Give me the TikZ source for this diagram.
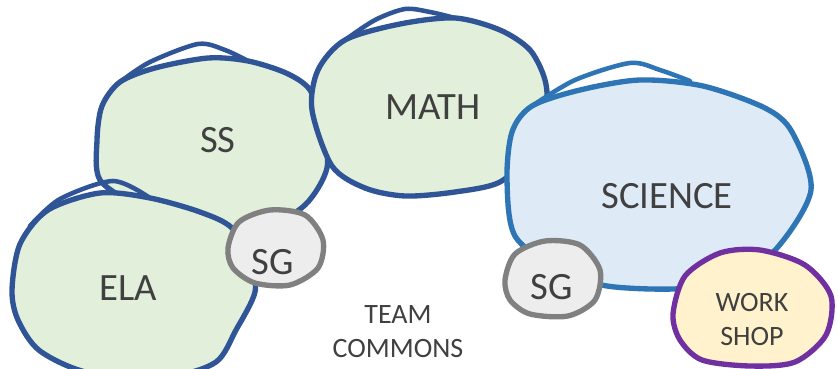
\documentclass[tikz,border=0pt]{standalone}
\usepackage{fontspec}
\setmainfont{Carlito}
\usepackage{tikz}

\definecolor{subjfill}{HTML}{E2EFDA}
\definecolor{subjline}{HTML}{2F5597}
\definecolor{scifill}{HTML}{DEEBF7}
\definecolor{sciline}{HTML}{2E75B6}
\definecolor{sgfill}{HTML}{EDEDED}
\definecolor{sgline}{HTML}{808080}
\definecolor{shopfill}{HTML}{FFF2CC}
\definecolor{shopline}{HTML}{7030A0}
\definecolor{labelgray}{HTML}{404040}

\tikzset{
	subject/.style={draw=subjline, fill=subjfill, line width=4pt, line join=round},
	science/.style={draw=sciline, fill=scifill, line width=4pt, line join=round},
	group/.style={draw=sgline, fill=sgfill, line width=4pt, line join=round},
	shop/.style={draw=shopline, fill=shopfill, line width=4pt, line join=round},
	lip/.style={line width=3.4pt, line cap=round},
	biglabel/.style={text=labelgray, font=\fontsize{29}{32}\selectfont},
	smalllabel/.style={text=labelgray, font=\fontsize{21}{25.5}\selectfont, align=center},
}

\begin{document}
\begin{tikzpicture}[x=0.75pt,y=-0.75pt]
		\useasboundingbox (0,0) rectangle (838,368);

		% social studies
		\draw[lip,subjline] plot[smooth] coordinates {(120,82) (150,62) (198,44) (225,50) (248,61)};
		\draw[subject] plot[smooth cycle] coordinates {(97,140) (102,106) (120,82) (155,68) (208,58) (248,61) (286,73) (310,90) (322,126) (327,168) (305,205) (265,226) (200,226) (140,206) (100,180)};

		% math
		\draw[lip,subjline] plot[smooth] coordinates {(345,40) (375,20) (405,9) (430,12) (455,18)};
		\draw[subject] plot[smooth cycle] coordinates {(312,110) (318,70) (345,40) (400,24) (455,18) (500,30) (530,50) (545,80) (546,110) (530,152) (500,182) (455,192) (405,196) (365,188) (332,166)};

		% science
		\draw[lip,sciline] plot[smooth] coordinates {(532,106) (575,80) (630,63) (660,70) (690,81)};
		\draw[science] plot[smooth cycle] coordinates {(507,180) (512,132) (532,106) (580,90) (640,80) (703,86) (765,108) (792,132) (811,190) (777,248) (730,282) (673,289) (607,286) (560,271) (515,236)};

		% english
		\draw[lip,subjline] plot[smooth] coordinates {(30,226) (60,199) (113,181) (150,198)};
		\draw[subject] plot[smooth cycle] coordinates {(12,290) (20,244) (48,210) (100,193) (150,198) (200,212) (232,228) (250,262) (255,292) (236,330) (216,362) (170,376) (90,373) (40,351) (18,320)};

		% small groups and workshop
		\draw[group] plot[smooth cycle] coordinates {(228,248) (239,222) (270,210) (305,215) (323,240) (318,268) (290,285) (255,283) (233,268)};
		\draw[group] plot[smooth cycle] coordinates {(505,280) (515,254) (545,241) (580,245) (600,270) (595,300) (568,316) (530,314) (510,300)};
		\draw[shop] plot[smooth cycle] coordinates {(673,314) (685,276) (720,253) (760,250) (805,265) (831,296) (826,335) (795,362) (750,366) (702,360) (680,340)};

		\node[biglabel] (ss) at(218,140) {SS};
		\node[biglabel] (math) at(433,107) {MATH};
		\node[biglabel] (science) at(667,196) {SCIENCE};
		\node[biglabel] (ela) at(128,288) {ELA};
		\node[biglabel] (sgleft) at(273,262) {SG};
		\node[biglabel] (sgright) at(552,287) {SG};
		\node[smalllabel] (workshop) at(752,320) {WORK\\SHOP};
		\node[smalllabel] (commons) at(398,332) {TEAM\\COMMONS};
	\end{tikzpicture}
\end{document}
